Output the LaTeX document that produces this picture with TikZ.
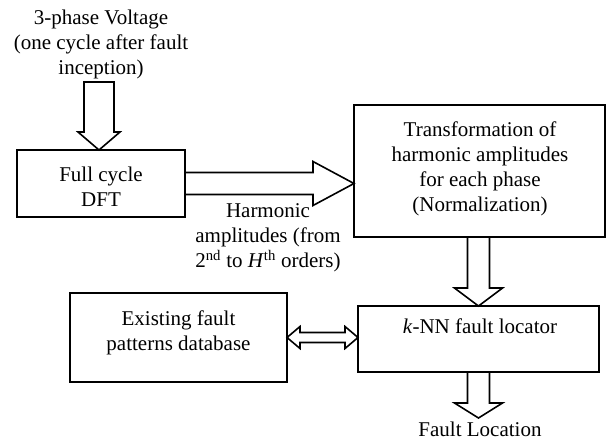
\documentclass[tikz,border=0pt]{standalone}
\usepackage{fontspec}
\setmainfont{Liberation Serif}
\usetikzlibrary{calc}
\begin{document}
\begin{tikzpicture}[x=1pt,y=-1pt,
  box/.style={draw, line width=1.6pt, inner sep=0pt, outer sep=0pt},
  lbl/.style={align=center, inner sep=0pt, font=\fontsize{21}{25}\selectfont},
  blk/.style={draw, line width=1.6pt, line join=miter}]
\useasboundingbox (0,0) rectangle (607,440);
% boxes
\node[box, minimum width=168pt, minimum height=67pt] (dft) at (101,183.5) {};
\node[box, minimum width=251pt, minimum height=132pt] (trans) at (479.5,171) {};
\node[box, minimum width=241pt, minimum height=66pt] (knn) at (478.5,339) {};
\node[box, minimum width=217pt, minimum height=89pt] (db) at (178.5,337.5) {};
% texts
\node[lbl] (vtxt) at (101,44) {3-phase Voltage\\(one cycle after fault\\inception)};
\node[lbl] (dfttxt) at (101,187) {Full cycle\\DFT};
\node[lbl] (transtxt) at (480,169) {Transformation of\\harmonic amplitudes\\for each phase\\(Normalization)};
\node[lbl, anchor=base] (knntxt) at (480,333) {\textit{k}-NN fault locator};
\node[lbl] (dbtxt) at (178.5,333) {Existing fault\\patterns database};
\node[lbl] (harm) at (268,238) {Harmonic\\amplitudes (from\\2\textsuperscript{nd} to \textit{H}\textsuperscript{th} orders)};
\node[lbl, anchor=base] (loc) at (480,436) {Fault Location};
% input arrow
\coordinate (vin) at (99,82);
\draw[blk] ($(vin)+(-15,0)$) -- ($(vin)+(-15,50)$) -- ($(vin)+(-21,50)$) -- (vin |- dft.north)
  -- ($(vin)+(21,50)$) -- ($(vin)+(15,50)$) -- ($(vin)+(15,0)$) -- cycle;
% DFT -> transformation
\coordinate (htip) at (trans.west |- dft.east);
\draw[blk] ($(dft.east)+(0,-11)$) -- ($(htip)+(-41,-11)$) -- ($(htip)+(-41,-22)$) -- (htip)
  -- ($(htip)+(-41,22)$) -- ($(htip)+(-41,11)$) -- ($(dft.east)+(0,11)$);
% transformation -> kNN
\coordinate (vtop) at (trans.south -| knn.north);
\draw[blk] ($(vtop)+(-11,0)$) -- ($(knn.north)+(-11,-18)$) -- ($(knn.north)+(-24,-18)$) -- (knn.north)
  -- ($(knn.north)+(24,-18)$) -- ($(knn.north)+(11,-18)$) -- ($(vtop)+(11,0)$);
% kNN -> output
\coordinate (otip) at ($(knn.south)+(0,46)$);
\draw[blk] ($(knn.south)+(-11,0)$) -- ($(knn.south)+(-11,31)$) -- ($(knn.south)+(-24,31)$) -- (otip)
  -- ($(knn.south)+(24,31)$) -- ($(knn.south)+(11,31)$) -- ($(knn.south)+(11,0)$);
% double arrow
\coordinate (dR) at (knn.west |- db.east);
\draw[blk] (db.east) -- ($(db.east)+(13,-11)$) -- ($(db.east)+(13,-5)$) -- ($(dR)+(-13,-5)$)
  -- ($(dR)+(-13,-11)$) -- (dR) -- ($(dR)+(-13,11)$) -- ($(dR)+(-13,5)$)
  -- ($(db.east)+(13,5)$) -- ($(db.east)+(13,11)$) -- cycle;
\end{tikzpicture}
\end{document}
